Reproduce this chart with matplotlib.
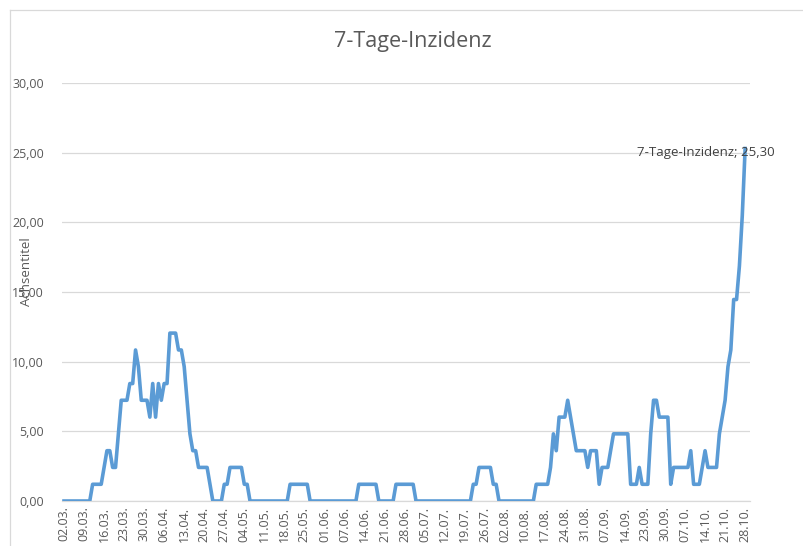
import matplotlib
matplotlib.use("Agg")
import matplotlib.pyplot as plt
from matplotlib.lines import Line2D

plt.rcParams['font.family'] = ['Open Sans', 'DejaVu Sans']

# tick labels on the category axis (every 7th day)
date_labels = ["02.03.", "09.03.", "16.03.", "23.03.", "30.03.", "06.04.", "13.04.",
               "20.04.", "27.04.", "04.05.", "11.05.", "18.05.", "25.05.", "01.06.",
               "07.06.", "14.06.", "21.06.", "28.06.", "05.07.", "12.07.", "19.07.",
               "26.07.", "02.08.", "10.08.", "17.08.", "24.08.", "31.08.", "07.09.",
               "14.09.", "23.09.", "30.09.", "07.10.", "14.10.", "21.10.", "28.10."]

# daily 7-day incidence, one row per week
incidence = [
    0, 0, 0, 0, 0, 0, 0,
    0, 0, 0, 1.20, 1.20, 1.20, 1.20,
    2.41, 3.61, 3.61, 2.41, 2.41, 4.82, 7.23,
    7.23, 7.23, 8.43, 8.43, 10.84, 9.64, 7.23,
    7.23, 7.23, 6.02, 8.43, 6.02, 8.43, 7.23,
    8.43, 8.43, 12.05, 12.05, 12.05, 10.84, 10.84,
    9.64, 7.23, 4.82, 3.61, 3.61, 2.41, 2.41,
    2.41, 2.41, 1.20, 0, 0, 0, 0,
    1.20, 1.20, 2.41, 2.41, 2.41, 2.41, 2.41,
    1.20, 1.20, 0, 0, 0, 0, 0,
    0, 0, 0, 0, 0, 0, 0,
    0, 0, 1.20, 1.20, 1.20, 1.20, 1.20,
    1.20, 1.20, 0, 0, 0, 0, 0,
    0, 0, 0, 0, 0, 0, 0,
    0, 0, 0, 0, 0, 1.20, 1.20,
    1.20, 1.20, 1.20, 1.20, 1.20, 0, 0,
    0, 0, 0, 0, 1.20, 1.20, 1.20,
    1.20, 1.20, 1.20, 1.20, 0, 0, 0,
    0, 0, 0, 0, 0, 0, 0,
    0, 0, 0, 0, 0, 0, 0,
    0, 0, 0, 1.20, 1.20, 2.41, 2.41,
    2.41, 2.41, 2.41, 1.20, 1.20, 0, 0,
    0, 0, 0, 0, 0, 0, 0,
    0, 0, 0, 0, 1.20, 1.20, 1.20,
    1.20, 1.20, 2.41, 4.82, 3.61, 6.02, 6.02,
    6.02, 7.23, 6.02, 4.82, 3.61, 3.61, 3.61,
    3.61, 2.41, 3.61, 3.61, 3.61, 1.20, 2.41,
    2.41, 2.41, 3.61, 4.82, 4.82, 4.82, 4.82,
    4.82, 4.82, 1.20, 1.20, 1.20, 2.41, 1.20,
    1.20, 1.20, 4.82, 7.23, 7.23, 6.02, 6.02,
    6.02, 6.02, 1.20, 2.41, 2.41, 2.41, 2.41,
    2.41, 2.41, 3.61, 1.20, 1.20, 1.20, 2.41,
    3.61, 2.41, 2.41, 2.41, 2.41, 4.82, 6.02,
    7.23, 9.64, 10.84, 14.46, 14.46, 16.87, 20.48,
    25.30,
]

gray = '#595959'
blue = '#5B9BD5'

W, H = 804, 546
fig = plt.figure(figsize=(W / 100, H / 100), dpi=100)
fig.patch.set_facecolor('white')

# plot area in pixels: left 62, right 750, top 83, bottom 501
ax = fig.add_axes([62 / W, 1 - 501 / H, (750 - 62) / W, (501 - 83) / H])

x = list(range(len(incidence)))
ax.plot(x, incidence, color=blue, lw=2.6, solid_joinstyle='round', zorder=3)

ax.set_ylim(0, 30)
ax.set_xlim(-0.7, 239.7)
ax.set_yticks([0, 5, 10, 15, 20, 25, 30])
ax.set_yticklabels([f"{v},00" for v in [0, 5, 10, 15, 20, 25, 30]])
ax.set_xticks(list(range(0, len(incidence), 7)))
ax.set_xticklabels(date_labels, rotation=90, va='top', ha='center')

ax.grid(axis='y', color='#d9d9d9', lw=0.9)
ax.set_axisbelow(True)
for s in ['top', 'right', 'left']:
    ax.spines[s].set_visible(False)
ax.spines['bottom'].set_color('#d9d9d9')
ax.spines['bottom'].set_linewidth(0.9)
ax.tick_params(axis='both', length=0, colors=gray, labelsize=9)
ax.tick_params(axis='y', pad=13)
ax.tick_params(axis='x', pad=4)

fig.text(413 / W, 1 - 42 / H, "7-Tage-Inzidenz", color=gray, fontsize=15.5,
         ha='center', va='center')
fig.text(27 / W, 1 - 272 / H, "Achsentitel", rotation=90, color=gray,
         fontsize=9.5, ha='center', va='center')

# data label on the last point
ax.annotate("7-Tage-Inzidenz; 25,30", xy=(x[-1], incidence[-1]),
            xytext=(29, -4), textcoords='offset pixels', ha='right', va='center',
            color='#404040', fontsize=9.5, zorder=4)

# chart border (left and top visible in the screenshot)
fig.add_artist(Line2D([10 / W, 10 / W], [0, 1 - 10 / H], color='#d9d9d9', lw=0.9))
fig.add_artist(Line2D([10 / W, 1], [1 - 10 / H, 1 - 10 / H], color='#d9d9d9', lw=0.9))

fig.savefig('out.png', dpi=100)
